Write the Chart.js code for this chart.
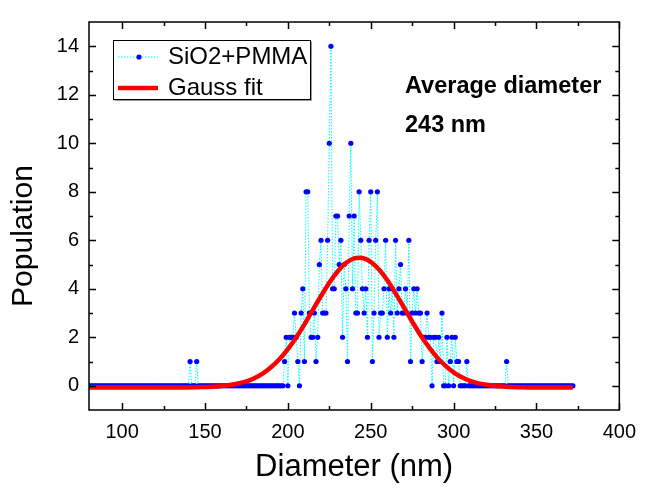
<!DOCTYPE html>
<html>
<head>
<meta charset="utf-8">
<script src="https://cdn.jsdelivr.net/npm/chart.js@4.4.1/dist/chart.umd.min.js"></script>
<style>
html, body { margin: 0; padding: 0; background: #fff; }
</style>
</head>
<body>
<canvas id="chart" width="646" height="489"></canvas>
<script>
// particle size histogram, 1 nm bins; bins not listed below are empty
var binFirst = 80, binLast = 372;
var diameters = [141,145,198,199,201,202,203,204,205,206,208,209,210,211,212,213,214,215,216,217,
	218,219,220,221,222,223,224,225,226,227,228,229,230,231,232,233,234,235,236,237,
	238,239,240,241,242,243,244,245,246,247,248,249,250,251,252,253,254,255,256,257,
	258,259,260,261,262,263,264,265,266,267,268,269,270,271,272,273,274,275,276,277,
	278,279,280,281,282,283,284,285,286,288,289,290,291,292,293,296,298,299,301,302,
	303,308,332];
var counts = [1,1,1,2,2,2,2,3,2,1,3,4,1,8,8,3,2,2,3,1,
	2,5,6,3,3,3,6,10,14,4,4,7,7,5,6,2,5,4,1,7,
	10,4,7,3,3,8,6,4,3,4,2,6,8,1,3,6,8,2,3,3,
	4,6,2,4,3,4,2,6,3,4,5,3,3,4,3,6,1,3,4,3,
	4,3,3,1,2,2,3,2,2,2,2,1,2,1,3,2,1,2,2,1,
	1,1,1];

// Gauss fit curve (center 243 nm)
var fitDiameters = [80,85,90,95,100,105,110,115,120,125,130,135,140,145,150,155,160,165,170,175,
	180,185,190,195,200,205,210,215,220,225,230,235,240,243,245,250,255,260,265,270,
	275,280,285,290,295,300,305,310,315,320,325,330,335,340,345,350,355,360,365,370,372];
var fitCounts = [-0.07,-0.07,-0.07,-0.07,-0.07,-0.07,-0.07,-0.07,-0.07,-0.07,-0.07,-0.07,-0.07,-0.06,-0.05,-0.04,-0.01,0.03,0.09,0.18,
	0.32,0.51,0.77,1.10,1.51,1.99,2.53,3.12,3.70,4.25,4.71,5.06,5.25,5.28,5.27,5.11,4.79,4.35,3.81,3.23,
	2.65,2.09,1.60,1.17,0.83,0.55,0.35,0.20,0.10,0.04,-0.01,-0.03,-0.05,-0.06,-0.07,-0.07,-0.07,-0.07,-0.07,-0.07,-0.07];

var xTickValues = [100,125,150,175,200,225,250,275,300,325,350,375,400];
var yTickValues = [0,1,2,3,4,5,6,7,8,9,10,11,12,13,14];

var fontFamily = '"Liberation Sans", Arial, sans-serif';

// fill the histogram bins
var lookup = {};
for (var i = 0; i < diameters.length; i++) lookup[diameters[i]] = counts[i];
var histPoints = [];
for (var d = binFirst; d <= binLast; d++) {
	histPoints.push({x: d, y: lookup[d] || 0});
}
var fitPoints = fitDiameters.map(function(v, i){ return {x: v, y: fitCounts[i]}; });

// frame, inward ticks, y title, boxed legend and the text note
var decorations = {
	id: 'decorations',
	afterDraw: function(chart){
		var ctx = chart.ctx, a = chart.chartArea;
		var xs = chart.scales.x, ys = chart.scales.y;
		ctx.save();
		ctx.strokeStyle = '#000';
		ctx.lineWidth = 1.5;
		ctx.strokeRect(a.left, a.top, a.right - a.left, a.bottom - a.top);
		function seg(x1, y1, x2, y2){
			ctx.beginPath(); ctx.moveTo(x1, y1); ctx.lineTo(x2, y2); ctx.stroke();
		}
		xs.ticks.forEach(function(t){
			var px = Math.round(xs.getPixelForValue(t.value)) + 0.5;
			var len = t.value % 50 === 0 ? 7 : 4;
			seg(px, a.bottom, px, a.bottom - len);
			seg(px, a.top, px, a.top + len);
		});
		ys.ticks.forEach(function(t){
			var py = Math.round(ys.getPixelForValue(t.value)) + 0.5;
			var len = t.value % 2 === 0 ? 7 : 4;
			seg(a.left, py, a.left + len, py);
			seg(a.right, py, a.right - len, py);
		});

		// y axis title
		ctx.save();
		ctx.translate(24, 236);
		ctx.rotate(-Math.PI / 2);
		ctx.fillStyle = '#000';
		ctx.font = '30px ' + fontFamily;
		ctx.textAlign = 'center';
		ctx.textBaseline = 'middle';
		ctx.fillText('Population', 0, 0);
		ctx.restore();

		// legend box
		var bx = 113.5, by = 40.5, bw = 197, bh = 59;
		ctx.fillStyle = '#fff';
		ctx.fillRect(bx, by, bw, bh);
		ctx.strokeStyle = '#999';
		ctx.lineWidth = 1;
		seg(bx + 1, by + bh + 1, bx + bw + 1, by + bh + 1);
		seg(bx + bw + 1, by + 1, bx + bw + 1, by + bh + 1);
		ctx.strokeStyle = '#000';
		ctx.strokeRect(bx, by, bw, bh);

		var ds = chart.data.datasets;
		var rows = [57, 88];
		// scatter sample
		ctx.strokeStyle = ds[0].borderColor;
		ctx.lineWidth = ds[0].borderWidth;
		ctx.setLineDash(ds[0].borderDash);
		seg(118, rows[0], 158, rows[0]);
		ctx.setLineDash([]);
		ctx.fillStyle = ds[0].pointBackgroundColor;
		ctx.beginPath(); ctx.arc(139, rows[0], 2.6, 0, Math.PI * 2); ctx.fill();
		// fit sample
		ctx.strokeStyle = ds[1].borderColor;
		ctx.lineWidth = ds[1].borderWidth;
		seg(118, rows[1], 158, rows[1]);

		ctx.fillStyle = '#000';
		ctx.font = '24px ' + fontFamily;
		ctx.textBaseline = 'middle';
		ctx.textAlign = 'left';
		ctx.fillText(ds[0].label, 168, rows[0]);
		ctx.fillText(ds[1].label, 168, rows[1]);

		ctx.font = 'bold 23.5px ' + fontFamily;
		ctx.textBaseline = 'alphabetic';
		ctx.fillText('Average diameter', 405, 93);
		ctx.fillText('243 nm', 405, 132);
		ctx.restore();
	}
};

var ctx = document.getElementById('chart').getContext('2d');
var chart = new Chart(ctx, {
	type: 'scatter',
	data: {
		datasets: [{
			label: 'SiO2+PMMA',
			data: histPoints,
			showLine: true,
			borderColor: '#00ffff',
			borderWidth: 1,
			borderDash: [1.5, 1.5],
			pointRadius: 2.6,
			pointBorderWidth: 0,
			pointBackgroundColor: '#0000ff',
			order: 2
		}, {
			label: 'Gauss fit',
			data: fitPoints,
			showLine: true,
			borderColor: '#ff0000',
			borderWidth: 4.5,
			pointRadius: 0,
			cubicInterpolationMode: 'monotone',
			order: 1
		}]
	},
	options: {
		responsive: false,
		animation: false,
		layout: { padding: { left: 0, top: 15, right: 19, bottom: 0 } },
		plugins: { legend: { display: false }, tooltip: { enabled: false } },
		scales: {
			x: {
				type: 'linear',
				min: 80, max: 400,
				afterBuildTicks: function(s){ s.ticks = xTickValues.map(function(v){ return {value: v}; }); },
				afterFit: function(s){ s.height = 79; },
				grid: { display: false, drawTicks: false },
				border: { display: false },
				ticks: {
					autoSkip: false, maxRotation: 0, padding: 10,
					color: '#000', font: { family: fontFamily, size: 20 },
					callback: function(v){ return v % 50 === 0 ? String(v) : ''; }
				},
				title: {
					display: true, text: 'Diameter (nm)', color: '#000',
					font: { family: fontFamily, size: 31 },
					padding: { top: 0, bottom: 3 }
				}
			},
			y: {
				type: 'linear',
				min: -1, max: 15,
				afterBuildTicks: function(s){ s.ticks = yTickValues.map(function(v){ return {value: v}; }); },
				afterFit: function(s){ s.width = 89; },
				grid: { display: false, drawTicks: false },
				border: { display: false },
				ticks: {
					autoSkip: false, padding: 10,
					color: '#000', font: { family: fontFamily, size: 20 },
					callback: function(v){ return v % 2 === 0 ? String(v) : ''; }
				},
				title: { display: false }
			}
		}
	},
	plugins: [decorations]
});
</script>
</body>
</html>
